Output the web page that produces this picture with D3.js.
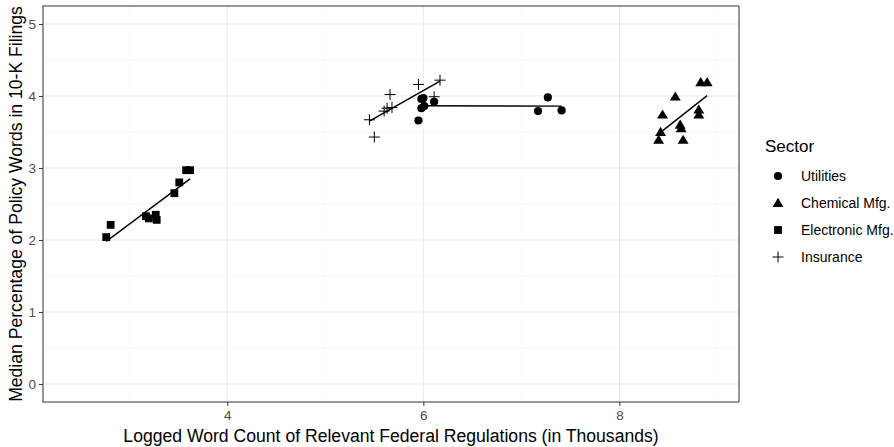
<!DOCTYPE html>
<html><head><meta charset="utf-8">
<script src="https://cdn.jsdelivr.net/npm/d3@7"></script>
<style>body{margin:0;background:#fff;}text{font-family:"Liberation Sans",Arial,sans-serif;}</style>
</head><body><svg id="c" width="894" height="447"></svg>
<script>
const sectors = ["Utilities","Chemical Mfg.","Electronic Mfg.","Insurance"];
const utilitiesX = [5.95,5.98,6.00,5.98,6.01,6.11,7.27,7.17,7.41];
const utilitiesY = [3.66,3.96,3.97,3.83,3.86,3.92,3.98,3.79,3.80];
const chemicalX = [8.83,8.895,8.57,8.44,8.81,8.81,8.62,8.63,8.42,8.40,8.65];
const chemicalY = [4.19,4.19,3.99,3.74,3.81,3.74,3.60,3.55,3.50,3.39,3.39];
const electronicX = [2.765,2.81,3.17,3.20,3.27,3.28,3.46,3.51,3.58,3.62];
const electronicY = [2.04,2.21,2.33,2.30,2.35,2.28,2.65,2.80,2.97,2.97];
const insuranceX = [5.45,5.50,5.60,5.63,5.66,5.68,5.95,6.17,6.11];
const insuranceY = [3.67,3.43,3.79,3.83,4.02,3.84,4.16,4.22,3.99];
const xTicks = [4,6,8];
const yTicks = [0,1,2,3,4,5];

const groups = [
  {name:sectors[0], xs:utilitiesX, ys:utilitiesY, shape:"circle"},
  {name:sectors[1], xs:chemicalX, ys:chemicalY, shape:"triangle"},
  {name:sectors[2], xs:electronicX, ys:electronicY, shape:"square"},
  {name:sectors[3], xs:insuranceX, ys:insuranceY, shape:"plus"}
];

const svg = d3.select("#c");
const L=43,R=739,T=6,B=402;
const x = d3.scaleLinear().domain([2.12,9.22]).range([L,R]);
const y = d3.scaleLinear().domain([-0.25,5.25]).range([B,T]);

// grid
const g = svg.append("g");
[3,5,7,9].forEach(v=>g.append("line").attr("x1",x(v)).attr("x2",x(v)).attr("y1",T).attr("y2",B).attr("stroke","#f2f2f2").attr("stroke-width",0.6));
[0.5,1.5,2.5,3.5,4.5].forEach(v=>g.append("line").attr("x1",L).attr("x2",R).attr("y1",y(v)).attr("y2",y(v)).attr("stroke","#f2f2f2").attr("stroke-width",0.6));
xTicks.forEach(v=>g.append("line").attr("x1",x(v)).attr("x2",x(v)).attr("y1",T).attr("y2",B).attr("stroke","#ebebeb").attr("stroke-width",1.1));
yTicks.forEach(v=>g.append("line").attr("x1",L).attr("x2",R).attr("y1",y(v)).attr("y2",y(v)).attr("stroke","#ebebeb").attr("stroke-width",1.1));

// axes
const xa = svg.append("g").attr("transform",`translate(0,${B})`).call(d3.axisBottom(x).tickValues(xTicks).tickSize(4).tickFormat(d3.format("d")));
const ya = svg.append("g").attr("transform",`translate(${L},0)`).call(d3.axisLeft(y).tickValues(yTicks).tickSize(4).tickFormat(d3.format("d")));
[xa,ya].forEach(a=>{a.select(".domain").remove();a.selectAll("line").attr("stroke","#333");a.selectAll("text").attr("fill","#4d4d4d").style("font-size","13.5px");});
xa.selectAll("text").attr("dy","0.85em");

svg.append("rect").attr("x",L).attr("y",T).attr("width",R-L).attr("height",B-T).attr("fill","none").attr("stroke","#333").attr("stroke-width",1);

// shapes
function drawShape(sel, shape, cx, cy, s){
  s = s||1;
  if(shape==="circle") sel.append("circle").attr("cx",cx).attr("cy",cy).attr("r",4.1*s).attr("fill","#000");
  else if(shape==="square") sel.append("rect").attr("x",cx-3.9*s).attr("y",cy-3.9*s).attr("width",7.8*s).attr("height",7.8*s).attr("fill","#000");
  else if(shape==="triangle"){const h=5.2*s; sel.append("path").attr("d",`M${cx},${cy-h}L${cx+h*1.05},${cy+h*0.75}L${cx-h*1.05},${cy+h*0.75}Z`).attr("fill","#000");}
  else if(shape==="plus"){const a=5.5*s; sel.append("path").attr("d",`M${cx-a},${cy}H${cx+a}M${cx},${cy-a}V${cy+a}`).attr("stroke","#000").attr("stroke-width",1).attr("fill","none");}
}

const pts = svg.append("g");
groups.forEach(gr=>{
  gr.xs.forEach((xv,i)=>drawShape(pts,gr.shape,x(xv),y(gr.ys[i])));
  const mx=d3.mean(gr.xs), my=d3.mean(gr.ys);
  let sxy=0,sxx=0; gr.xs.forEach((xv,i)=>{sxy+=(xv-mx)*(gr.ys[i]-my);sxx+=(xv-mx)*(xv-mx);});
  const b=sxy/sxx, a=my-b*mx;
  const x0=d3.min(gr.xs), x1=d3.max(gr.xs);
  pts.append("line").attr("x1",x(x0)).attr("y1",y(a+b*x0)).attr("x2",x(x1)).attr("y2",y(a+b*x1)).attr("stroke","#000").attr("stroke-width",1.4);
});

// axis titles
svg.append("text").attr("x",(L+R)/2).attr("y",442).attr("text-anchor","middle").style("font-size","17.6px").attr("fill","#000").text("Logged Word Count of Relevant Federal Regulations (in Thousands)");
svg.append("text").attr("transform",`translate(22,${(T+B)/2}) rotate(-90)`).attr("text-anchor","middle").style("font-size","17.6px").attr("fill","#000").text("Median Percentage of Policy Words in 10-K Filings");

// legend
const lg = svg.append("g");
lg.append("text").attr("x",765).attr("y",152).style("font-size","17px").text("Sector");
groups.forEach((gr,i)=>{
  const cy = 176 + i*27;
  drawShape(lg, gr.shape, 778, cy);
  lg.append("text").attr("x",801).attr("y",cy).attr("dy","0.35em").style("font-size","14px").text(gr.name);
});
</script></body></html>
